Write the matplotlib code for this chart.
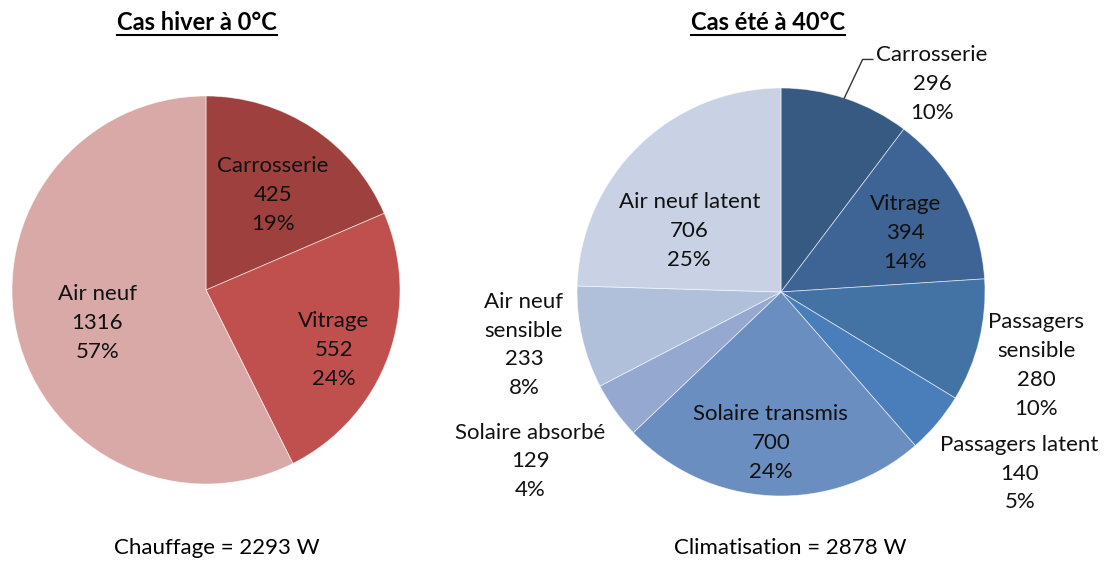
import numpy as np
import matplotlib.pyplot as plt
from matplotlib.lines import Line2D

plt.rcParams["font.family"] = ["Lato", "DejaVu Sans"]

# Winter case (heating)
hiver_labels = ["Carrosserie", "Vitrage", "Air neuf"]
hiver_values = [425, 552, 1316]
hiver_colors = ["#9E403E", "#C0504D", "#D9A9A8"]

# Summer case (cooling)
ete_labels = ["Carrosserie", "Vitrage", "Passagers\nsensible", "Passagers latent",
              "Solaire transmis", "Solaire absorbé", "Air neuf\nsensible", "Air neuf latent"]
ete_values = [296, 394, 280, 140, 700, 129, 233, 706]
ete_colors = ["#375A82", "#3E6496", "#4372A5", "#4A7EBB",
              "#6A8EC0", "#95A8CF", "#B0C0DB", "#C8D2E4"]

# label anchors, in units of the pie radius (layout only)
hiver_label_pos = [(0.345, 0.49), (0.66, -0.31), (-0.56, -0.17)]
ete_label_pos = [(0.74, 1.02), (0.61, 0.29), (1.25, -0.36), (1.17, -0.89),
                 (-0.05, -0.74), (-1.23, -0.83), (-1.26, -0.26), (-0.45, 0.30)]

W, H = 1110, 563
fig = plt.figure(figsize=(W / 100, H / 100), dpi=100)


def pie_axes(cx, cy, r):
    return fig.add_axes([(cx - r) / W, (H - cy - r) / H, 2 * r / W, 2 * r / H])


def draw_pie(ax, values, colors, labels, positions, fs=16):
    total = sum(values)
    ax.pie(values, colors=colors, startangle=90, counterclock=False, radius=1,
           wedgeprops=dict(edgecolor=(1, 1, 1, 0.6), linewidth=0.6))
    for lab, v, (x, y) in zip(labels, values, positions):
        ax.text(x, y, f"{lab}\n{v}\n{round(100 * v / total)}%", ha="center",
                va="center", fontsize=fs, color="#111111", linespacing=1.55,
                clip_on=False)
    ax.set_xlim(-1, 1)
    ax.set_ylim(-1, 1)
    ax.set_aspect("equal")
    ax.axis("off")


ax1 = pie_axes(206, 290, 194)
draw_pie(ax1, hiver_values, hiver_colors, hiver_labels, hiver_label_pos)

ax2 = pie_axes(781, 292, 204)
draw_pie(ax2, ete_values, ete_colors, ete_labels, ete_label_pos)

# leader line for Carrosserie label (summer)
ax2.plot([0.31, 0.40, 0.45], [0.95, 1.14, 1.14], color="#333333", lw=1, clip_on=False)


def underlined_title(x, y, s):
    t = fig.text(x / W, 1 - y / H, s, ha="center", va="center", fontsize=17,
                 fontweight="bold")
    fig.canvas.draw()
    bb = t.get_window_extent(renderer=fig.canvas.get_renderer())
    yl = bb.y0 - 1
    fig.add_artist(Line2D([bb.x0 / W, bb.x1 / W], [yl / H, yl / H], color="black",
                          lw=1.5, transform=fig.transFigure))


underlined_title(197, 22, "Cas hiver à 0°C")
underlined_title(768, 22, "Cas été à 40°C")

fig.text(217 / W, 1 - 548 / H, f"Chauffage = {sum(hiver_values)} W", ha="center",
         va="center", fontsize=16)
fig.text(790 / W, 1 - 548 / H, f"Climatisation = {sum(ete_values)} W", ha="center",
         va="center", fontsize=16)

fig.savefig("out.png", dpi=100)
